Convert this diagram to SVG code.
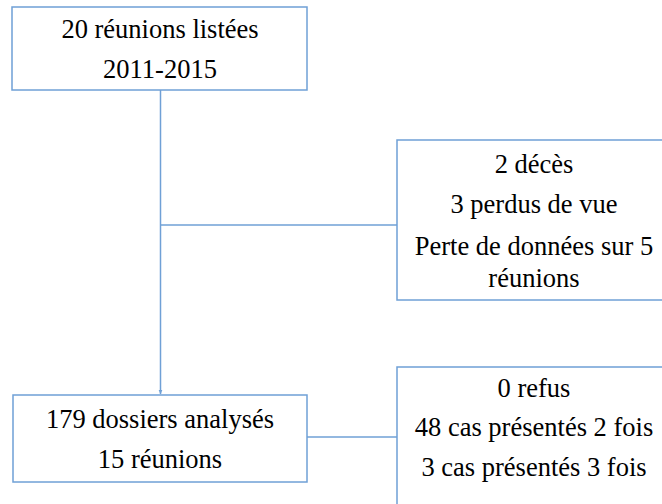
<svg xmlns="http://www.w3.org/2000/svg" width="662" height="504" viewBox="0 0 662 504">
<defs>
<style>
.box{fill:#ffffff;stroke:#6fa0d6;stroke-width:1.5}
.ln{fill:none;stroke:#6fa0d6;stroke-width:1.5}
text{font-size:26.5px;fill:#000;text-anchor:middle}
</style>
<marker id="ah" viewBox="0 0 10 10" refX="9" refY="5" markerWidth="5" markerHeight="5" orient="auto" markerUnits="userSpaceOnUse">
<path d="M0,1 L10,5 L0,9 Z" fill="#6fa0d6"/>
</marker>
</defs>
<rect width="662" height="504" fill="#ffffff"/>
<g id="connectors">
<line class="ln" x1="160.5" y1="90" x2="160.5" y2="394" marker-end="url(#ah)"/>
<line class="ln" x1="160.5" y1="225" x2="397" y2="225"/>
<line class="ln" x1="307" y1="437" x2="397" y2="437"/>
</g>
<g id="n1" font-family="Liberation Serif">
<rect class="box" x="12" y="7" width="295" height="83"/>
<text x="160" y="38">20 réunions listées</text>
<text x="160" y="78">2011-2015</text>
</g>
<g id="n2" font-family="Liberation Serif">
<rect class="box" x="397" y="140" width="290" height="160"/>
<text x="534" y="173">2 décès</text>
<text x="534" y="213">3 perdus de vue</text>
<text x="534" y="255">Perte de données sur 5</text>
<text x="534" y="287">réunions</text>
</g>
<g id="n3" font-family="Liberation Serif">
<rect class="box" x="13" y="395" width="294" height="87"/>
<text x="160" y="428">179 dossiers analysés</text>
<text x="160" y="468">15 réunions</text>
</g>
<g id="n4" font-family="Liberation Serif">
<rect class="box" x="397" y="367" width="290" height="160"/>
<text x="534" y="397">0 refus</text>
<text x="534" y="436">48 cas présentés 2 fois</text>
<text x="534" y="476">3 cas présentés 3 fois</text>
</g>
</svg>
